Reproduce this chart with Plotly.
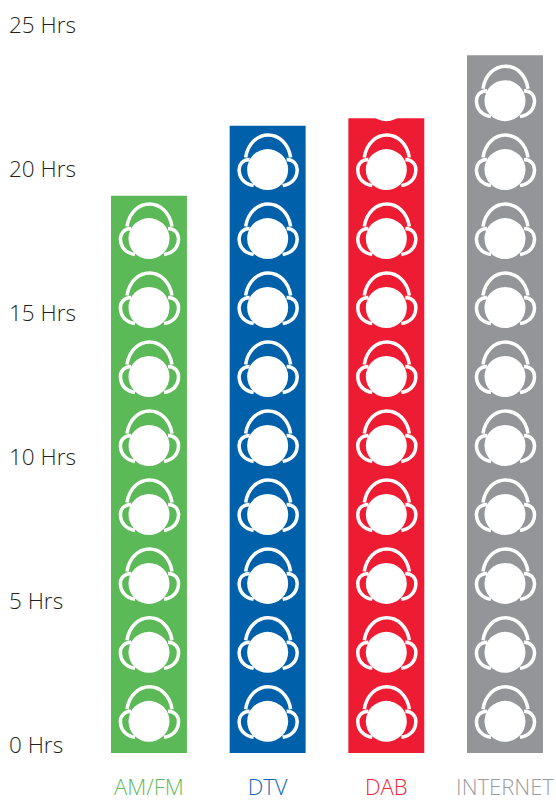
import plotly.graph_objects as go

categories = ["AM/FM", "DTV", "DAB", "INTERNET"]
hours = [19.36, 21.79, 22.05, 24.24]
icon_counts = [8, 9, 10, 10]
bar_colors = ["#5cb957", "#0060a9", "#ee1c33", "#939598"]
label_colors = ["#5fbb5a", "#0f66ae", "#ee2438", "#9a9c9f"]
y_ticks = [0, 5, 10, 15, 20, 25]
y_labels = ["0 Hrs", "5 Hrs", "10 Hrs", "15 Hrs", "20 Hrs", "25 Hrs"]
first_icon_hours = 1.10
icon_step_hours = 2.396

positions = list(range(len(categories)))
ICON_PATH = (
    "M -22,12 C -20,26 -10,34.5 0.5,34.5 C 11,34.5 21,26 23,12 "
    "M -18,10 C -25,10 -29,5 -28.5,-1 C -28,-9 -24,-14 -14,-16 "
    "M 19,10 C 26,10 30,5 29.5,-1 C 29,-9 25,-14 15,-16"
)

fig = go.Figure()
fig.add_trace(go.Bar(x=positions, y=hours, marker=dict(color=bar_colors, line_width=0),
                     width=0.64, showlegend=False))

icon_x, icon_y = [], []
shapes = []
for pos, count in zip(positions, icon_counts):
    for n in range(count):
        y_val = first_icon_hours + n * icon_step_hours
        icon_x.append(pos)
        icon_y.append(y_val)
        shapes.append(dict(type="path", layer="above", xref="x", yref="y",
                           xsizemode="pixel", ysizemode="pixel",
                           xanchor=pos, yanchor=y_val, path=ICON_PATH,
                           line=dict(color="white", width=3.5), fillcolor="rgba(0,0,0,0)"))

fig.add_trace(go.Scatter(x=icon_x, y=icon_y, mode="markers",
                         marker=dict(symbol="circle", size=41, color="white", line_width=0),
                         showlegend=False, hoverinfo="skip"))

fig.update_layout(
    width=556, height=801, margin=dict(l=6, r=0, t=19, b=48, pad=0),
    paper_bgcolor="white", plot_bgcolor="white", shapes=shapes,
    xaxis=dict(range=[-1.205, 3.43], tickmode="array", tickvals=positions,
               ticktext=[f'<span style="color:{c}">{t}</span>' for t, c in zip(categories, label_colors)],
               showgrid=False, zeroline=False, showline=False, ticks="", ticklen=0,
               ticklabelstandoff=19, ticklabeloverflow="allow",
               tickfont=dict(family="Open Sans", size=22, weight=300), automargin=False),
    yaxis=dict(range=[0, 25.5], tickmode="array", tickvals=y_ticks, ticktext=y_labels,
               ticklabelposition="inside", ticklabelshift=-8, ticklabeloverflow="allow",
               showgrid=False, zeroline=False, showline=False, ticks="",
               tickfont=dict(family="Open Sans", size=22.5, weight=300, color="#231f20"), automargin=False),
)
fig.write_html("out.html", post_script="document.body.style.margin='0';", config={"displayModeBar": False})
